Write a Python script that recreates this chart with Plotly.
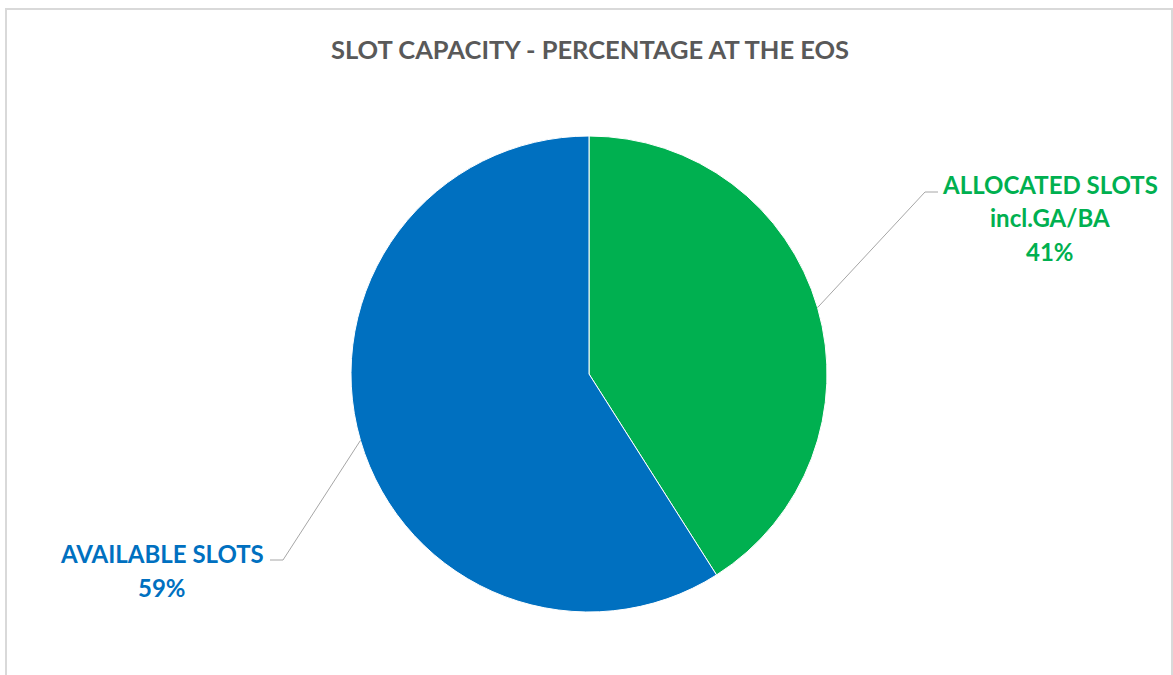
import math
import plotly.graph_objects as go

# ---- data ----
categories = ["ALLOCATED SLOTS<br>incl.GA/BA", "AVAILABLE SLOTS"]
values = [41, 59]
colors = ["#00B050", "#0070C0"]
title_text = "SLOT CAPACITY - PERCENTAGE AT THE EOS"

W, H = 1173, 675
CX, CY, R = 589, 374, 238  # pie centre / radius in pixels (layout)
FONT = "Lato"
LINE_GAP = 34

fig = go.Figure()
fig.add_trace(go.Pie(
    labels=categories,
    values=values,
    marker=dict(colors=colors, line=dict(color="white", width=1)),
    sort=False,
    direction="clockwise",
    rotation=0,
    textinfo="none",
    hoverinfo="label+percent",
    showlegend=False,
    domain=dict(x=[(CX - R) / W, (CX + R) / W], y=[(H - CY - R) / H, (H - CY + R) / H]),
))

def px(x):
    return x / W

def py(y):
    return 1 - y / H

# label layout (styling): elbow offsets and label anchor positions (first line centre)
label_layout = [
    dict(elbow=(925, 192), end=(938, 192), text_xy=(1050, 184)),
    dict(elbow=(283, 560), end=(270, 560), text_xy=(162, 553)),
]

total = sum(values)
cum = 0
shapes = []
annotations = []
for i, (lab, v, c) in enumerate(zip(categories, values, colors)):
    mid = (cum + v / 2) / total * 2 * math.pi
    cum += v
    sx = CX + R * math.sin(mid)
    sy = CY - R * math.cos(mid)
    L = label_layout[i]
    ex, ey = L["elbow"]
    fx, fy = L["end"]
    shapes.append(dict(type="path", xref="paper", yref="paper",
                       path=f"M {px(sx)} {py(sy)} L {px(ex)} {py(ey)} L {px(fx)} {py(fy)}",
                       line=dict(color="#A6A6A6", width=1)))
    pct = round(v / total * 100)
    tx, ty = L["text_xy"]
    lines = lab.split("<br>") + [f"{pct}%"]
    for k, line in enumerate(lines):
        annotations.append(dict(xref="paper", yref="paper", x=px(tx), y=py(ty + k * LINE_GAP),
                                text=line, showarrow=False,
                                xanchor="center", yanchor="middle", align="center",
                                font=dict(family=FONT, size=24, color=c, weight="bold")))

# outer chart border
shapes.append(dict(type="rect", xref="paper", yref="paper",
                   x0=px(6), x1=px(1172), y0=py(690), y1=py(9),
                   line=dict(color="#D9D9D9", width=2), fillcolor="rgba(0,0,0,0)"))

annotations.append(dict(xref="paper", yref="paper", x=px(590), y=py(49),
                        text=title_text, showarrow=False, xanchor="center", yanchor="middle",
                        font=dict(family=FONT, size=25.5, color="#595959", weight="bold")))

fig.update_layout(
    width=W, height=H,
    margin=dict(l=0, r=0, t=0, b=0),
    paper_bgcolor="white", plot_bgcolor="white",
    shapes=shapes, annotations=annotations,
)
fig.write_html("out.html", config={"displayModeBar": False},
               post_script="document.body.style.margin='0';document.body.style.overflow='hidden';")
